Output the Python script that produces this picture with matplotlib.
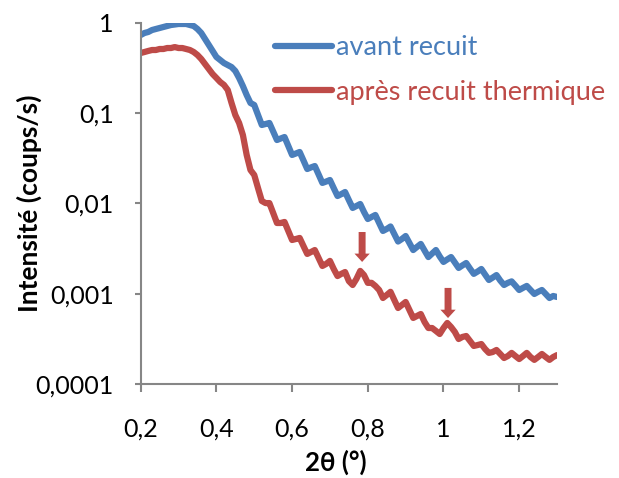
import matplotlib
matplotlib.use("Agg")
import matplotlib.pyplot as plt

plt.rcParams['font.family'] = ['Lato', 'DejaVu Sans']

# 2theta grid (deg), one value every 0.01 from 0.20 to 1.30
two_theta = [round(0.20 + 0.01 * i, 2) for i in range(111)]

# intensities (coups/s)
avant = [
    0.736, 0.775, 0.795, 0.836, 0.858, 0.880, 0.903, 0.926, 0.950, 0.962,
    0.975, 0.975, 0.975, 0.950, 0.926, 0.858, 0.775, 0.665, 0.571, 0.490,
    0.420, 0.389, 0.360, 0.342, 0.325, 0.294, 0.246, 0.200, 0.159, 0.130,
    0.1234, 0.0956, 0.0741, 0.0760, 0.0780, 0.0628, 0.0505, 0.0525, 0.0545, 0.0434,
    0.0345, 0.0358, 0.0372, 0.0300, 0.0241, 0.0251, 0.0260, 0.0210, 0.0169, 0.0175,
    0.0182, 0.0148, 0.0121, 0.0127, 0.0134, 0.0109, 0.00892, 0.00938, 0.00987, 0.00805,
    0.00673, 0.00709, 0.00746, 0.00608, 0.00496, 0.00522, 0.00556, 0.00459, 0.00379, 0.00404,
    0.00436, 0.00365, 0.00305, 0.00330, 0.00356, 0.00301, 0.00255, 0.00279, 0.00305, 0.00259,
    0.00225, 0.00240, 0.00255, 0.00222, 0.00193, 0.00206, 0.00219, 0.00190, 0.00166, 0.00176,
    0.00188, 0.00163, 0.00142, 0.00151, 0.00161, 0.00140, 0.00125, 0.00132, 0.00137, 0.00123,
    0.00110, 0.00116, 0.00122, 0.00110, 0.000994, 0.00105, 0.00110, 0.000994, 0.000897, 0.000944,
    0.000920,
]

apres = [
    0.465, 0.477, 0.490, 0.502, 0.502, 0.515, 0.515, 0.528, 0.528, 0.541,
    0.528, 0.528, 0.515, 0.502, 0.477, 0.442, 0.399, 0.351, 0.309, 0.272,
    0.246, 0.222, 0.206, 0.181, 0.130, 0.0956, 0.0780, 0.0574, 0.0345, 0.0235,
    0.0207, 0.0148, 0.01066, 0.0101, 0.0101, 0.00785, 0.00608, 0.00608, 0.00624, 0.00496,
    0.00394, 0.00404, 0.00415, 0.00338, 0.00276, 0.00290, 0.00305, 0.00249, 0.00203, 0.00214,
    0.00231, 0.00188, 0.00157, 0.00166, 0.00174, 0.00138, 0.00125, 0.00146, 0.00179, 0.00161,
    0.00132, 0.00132, 0.00122, 0.00110, 0.000897, 0.000968, 0.00105, 0.000853, 0.000695, 0.000750,
    0.000810, 0.000661, 0.000539, 0.000567, 0.000596, 0.000486, 0.000417, 0.000417, 0.000387, 0.000358,
    0.000417, 0.000474, 0.000428, 0.000377, 0.000315, 0.000332, 0.000340, 0.000300, 0.000264, 0.000270,
    0.000277, 0.000244, 0.000221, 0.000226, 0.000238, 0.000215, 0.000194, 0.000204, 0.000221, 0.000204,
    0.000189, 0.000204, 0.000221, 0.000199, 0.000185, 0.000199, 0.000215, 0.000199, 0.000185, 0.000199,
    0.000209,
]

# arrows marking the extra peaks of the annealed sample: (x, top, tip)
arrows = [(0.785, 0.00483, 0.00225), (1.012, 0.00116, 0.000538)]

labels = ['avant recuit', 'après recuit thermique']
xticks = [0.2, 0.4, 0.6, 0.8, 1.0, 1.2]
xtick_labels = ['0,2', '0,4', '0,6', '0,8', '1', '1,2']
yticks = [1e-4, 1e-3, 1e-2, 1e-1, 1]
ytick_labels = ['0,0001', '0,001', '0,01', '0,1', '1']

blue = '#4a7ebb'
red = '#be4b48'
grey = '#868686'

fig = plt.figure(figsize=(6.19, 4.78), dpi=100)
ax = fig.add_axes([0.2273, 0.1967, 0.6726, 0.7552])

ax.plot(two_theta, avant, color=blue, lw=4.5, solid_capstyle='round',
        solid_joinstyle='round', label=labels[0])
ax.plot(two_theta, apres, color=red, lw=4.5, solid_capstyle='round',
        solid_joinstyle='round', label=labels[1])

for x, top, tip in arrows:
    ax.annotate('', xy=(x, tip), xytext=(x, top),
                arrowprops=dict(arrowstyle='simple,head_width=1.1,head_length=0.6,tail_width=0.5',
                                color=red, lw=0, shrinkA=0, shrinkB=0, mutation_scale=10))

ax.set_yscale('log')
ax.set_xlim(0.2, 1.3)
ax.set_ylim(1e-4, 1)
ax.set_xticks(xticks)
ax.set_xticklabels(xtick_labels)
ax.set_yticks(yticks)
ax.set_yticklabels(ytick_labels)
ax.minorticks_off()

for side in ['top', 'right']:
    ax.spines[side].set_visible(False)
for side in ['left', 'bottom']:
    ax.spines[side].set_color(grey)
    ax.spines[side].set_linewidth(1.5)
ax.tick_params(axis='both', direction='out', color=grey, width=1.5, labelsize=18)
ax.tick_params(axis='x', length=5.5, pad=19)
ax.tick_params(axis='y', length=4.5, pad=15)

ax.set_xlabel('2θ (°)', fontsize=18.5, fontweight='bold')
ax.set_ylabel('Intensité (coups/s)', fontsize=19, fontweight='bold')
ax.xaxis.set_label_coords(0.469, -0.183)
ax.yaxis.set_label_coords(-0.237, 0.5)

leg = fig.legend(loc='upper left', bbox_to_anchor=(0.444, 0.926), frameon=False,
                 fontsize=19.5, handlelength=2.1, handletextpad=0.15, labelspacing=0.72,
                 borderpad=0, borderaxespad=0, labelcolor='linecolor')

fig.savefig('out.png', dpi=100)
